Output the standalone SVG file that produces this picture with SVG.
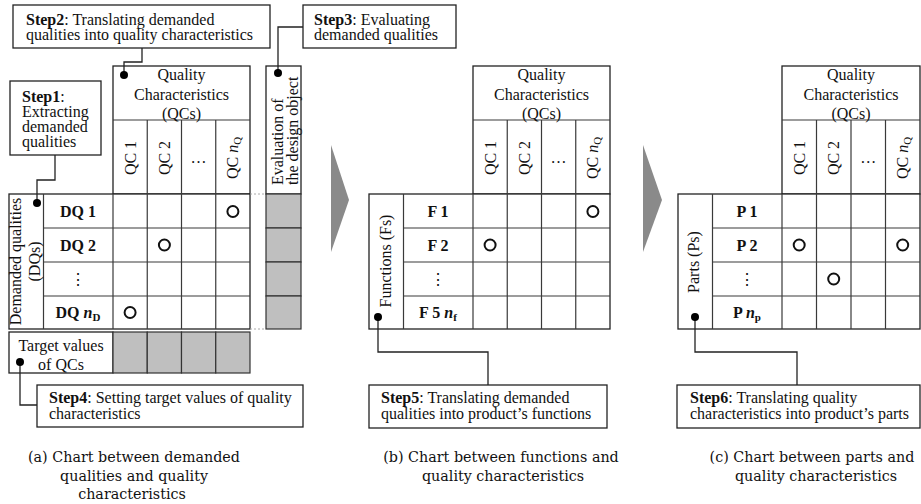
<svg xmlns="http://www.w3.org/2000/svg" width="921" height="504" viewBox="0 0 921 504">
  <style>
    text { font-family: 'Liberation Serif', 'Times New Roman', serif; font-size: 16px; fill: #111; }
    .b { font-weight: bold; }
    .cap { font-family: 'DejaVu Serif', serif; font-size: 14.3px; text-anchor: middle; }
    .mid { text-anchor: middle; }
    .grid { fill: none; stroke: #3a3a3a; stroke-width: 1.2; }
    .box { fill: #fff; stroke: #222; stroke-width: 1.3; }
    .shade { fill: #bfbfbf; stroke: #333; stroke-width: 1.2; }
    .mark { fill: none; stroke: #111; stroke-width: 2; }
    .link { fill: none; stroke: #222; stroke-width: 1.3; }
    .dot { fill: #000; }
    .dash { fill: none; stroke: #aaa; stroke-width: 1; stroke-dasharray: 2 2; }
    .flow { fill: #8a8a8a; }
    .sub { font-size: 11px; }
    .nv { font-style: italic; }
  </style>

  <!-- Step callout boxes -->
  <g id="step2">
    <rect class="box" x="13" y="5" width="257" height="43"/>
    <text x="26" y="25"><tspan class="b">Step2</tspan>: Translating demanded</text>
    <text x="26" y="40">qualities into quality characteristics</text>
  </g>
  <g id="step3">
    <rect class="box" x="303" y="5" width="153" height="43"/>
    <text x="314" y="25"><tspan class="b">Step3</tspan>: Evaluating</text>
    <text x="314" y="40">demanded qualities</text>
  </g>
  <g id="step1">
    <rect class="box" x="10" y="81" width="91" height="74"/>
    <text x="22" y="102"><tspan class="b">Step1</tspan>:</text>
    <text x="22" y="117">Extracting</text>
    <text x="22" y="132">demanded</text>
    <text x="22" y="147">qualities</text>
  </g>
  <g id="step4">
    <rect class="box" x="37" y="385" width="266" height="42"/>
    <text x="49" y="403"><tspan class="b">Step4</tspan>: Setting target values of quality</text>
    <text x="49" y="419">characteristics</text>
  </g>
  <g id="step5">
    <rect class="box" x="369" y="385" width="238" height="43"/>
    <text x="381" y="403"><tspan class="b">Step5</tspan>: Translating demanded</text>
    <text x="381" y="419">qualities into product’s functions</text>
  </g>
  <g id="step6">
    <rect class="box" x="677" y="385" width="243" height="43"/>
    <text x="690" y="403"><tspan class="b">Step6</tspan>: Translating quality</text>
    <text x="690" y="419">characteristics into product’s parts</text>
  </g>

  <!-- Chart (a): demanded qualities vs quality characteristics -->
  <g id="chart-a">
    <rect class="box" x="113" y="66" width="137" height="128"/>
    <rect class="box" x="9" y="194" width="241" height="135"/>
    <path class="grid" d="M113 120H250 M147.25 120V329 M181.5 120V329 M215.75 120V329 M113 194V329 M43.5 194V329 M43.5 228H250 M43.5 262H250 M43.5 296H250"/>
    <text class="mid" x="181.5" y="80">Quality</text>
    <text class="mid" x="181.5" y="100">Characteristics</text>
    <text class="mid" x="181.5" y="119">(QCs)</text>
    <text class="mid" transform="translate(130.1,158) rotate(-90)" y="5.5">QC 1</text>
    <text class="mid" transform="translate(164.4,158) rotate(-90)" y="5.5">QC 2</text>
    <text class="mid" x="198.6" y="163">…</text>
    <text class="mid" transform="translate(232.9,158) rotate(-90)" y="5.5">QC <tspan class="nv">n</tspan><tspan class="sub" dy="3">Q</tspan></text>
    <text class="mid" transform="translate(21,261.5) rotate(-90)">Demanded qualities</text>
    <text class="mid" transform="translate(40,261.5) rotate(-90)">(DQs)</text>
    <text class="mid b" x="78" y="216.5">DQ 1</text>
    <text class="mid b" x="78" y="250.5">DQ 2</text>
    <text class="mid" x="78" y="285">⋮</text>
    <text class="mid b" x="78" y="318">DQ <tspan class="nv">n</tspan><tspan class="sub" dy="3">D</tspan></text>
    <circle class="mark" cx="232.9" cy="211.5" r="5.5"/>
    <circle class="mark" cx="164.4" cy="245" r="5.5"/>
    <circle class="mark" cx="130.1" cy="312.5" r="5.5"/>
  </g>

  <!-- Evaluation column -->
  <g id="evaluation">
    <rect class="box" x="266" y="66" width="35" height="128"/>
    <rect class="shade" x="266" y="194" width="35" height="34"/>
    <rect class="shade" x="266" y="228" width="35" height="34"/>
    <rect class="shade" x="266" y="262" width="35" height="34"/>
    <rect class="shade" x="266" y="296" width="35" height="33"/>
    <text transform="translate(282.5,185) rotate(-90)">Evaluation of</text>
    <text transform="translate(298,185) rotate(-90)">the design object</text>
  </g>

  <!-- Target values row -->
  <g id="target-values">
    <rect class="box" x="9" y="332" width="104" height="41"/>
    <rect class="shade" x="113" y="332" width="34.25" height="41"/>
    <rect class="shade" x="147.25" y="332" width="34.25" height="41"/>
    <rect class="shade" x="181.5" y="332" width="34.25" height="41"/>
    <rect class="shade" x="215.75" y="332" width="34.25" height="41"/>
    <text class="mid" x="61" y="351">Target values</text>
    <text class="mid" x="61" y="370">of QCs</text>
  </g>

  <!-- Chart (b): functions vs quality characteristics -->
  <g id="chart-b">
    <rect class="box" x="473" y="66" width="137" height="128"/>
    <rect class="box" x="369" y="194" width="241" height="135"/>
    <path class="grid" d="M473 120H610 M507.25 120V329 M541.5 120V329 M575.75 120V329 M473 194V329 M403.5 194V329 M403.5 228H610 M403.5 262H610 M403.5 296H610"/>
    <text class="mid" x="541.5" y="80">Quality</text>
    <text class="mid" x="541.5" y="100">Characteristics</text>
    <text class="mid" x="541.5" y="119">(QCs)</text>
    <text class="mid" transform="translate(490.1,158) rotate(-90)" y="5.5">QC 1</text>
    <text class="mid" transform="translate(524.4,158) rotate(-90)" y="5.5">QC 2</text>
    <text class="mid" x="558.6" y="163">…</text>
    <text class="mid" transform="translate(592.9,158) rotate(-90)" y="5.5">QC <tspan class="nv">n</tspan><tspan class="sub" dy="3">Q</tspan></text>
    <text class="mid" transform="translate(391,261) rotate(-90)">Functions (Fs)</text>
    <text class="mid b" x="438" y="216.5">F 1</text>
    <text class="mid b" x="438" y="250.5">F 2</text>
    <text class="mid" x="438" y="285">⋮</text>
    <text class="mid b" x="438" y="318">F 5 <tspan class="nv">n</tspan><tspan class="sub" dy="3">f</tspan></text>
    <circle class="mark" cx="592.9" cy="211.5" r="5.5"/>
    <circle class="mark" cx="490.1" cy="245" r="5.5"/>
  </g>

  <!-- Chart (c): parts vs quality characteristics -->
  <g id="chart-c">
    <rect class="box" x="782" y="66" width="138" height="128"/>
    <rect class="box" x="678" y="194" width="242" height="135"/>
    <path class="grid" d="M782 120H920 M816.5 120V329 M851 120V329 M885.5 120V329 M782 194V329 M712.5 194V329 M712.5 228H920 M712.5 262H920 M712.5 296H920"/>
    <text class="mid" x="851" y="80">Quality</text>
    <text class="mid" x="851" y="100">Characteristics</text>
    <text class="mid" x="851" y="119">(QCs)</text>
    <text class="mid" transform="translate(799.2,158) rotate(-90)" y="5.5">QC 1</text>
    <text class="mid" transform="translate(833.7,158) rotate(-90)" y="5.5">QC 2</text>
    <text class="mid" x="868.2" y="163">…</text>
    <text class="mid" transform="translate(902.7,158) rotate(-90)" y="5.5">QC <tspan class="nv">n</tspan><tspan class="sub" dy="3">Q</tspan></text>
    <text class="mid" transform="translate(699,262) rotate(-90)">Parts (Ps)</text>
    <text class="mid b" x="747" y="216.5">P 1</text>
    <text class="mid b" x="747" y="250.5">P 2</text>
    <text class="mid" x="747" y="285">⋮</text>
    <text class="mid b" x="747" y="318">P <tspan class="nv">n</tspan><tspan class="sub" dy="3">p</tspan></text>
    <circle class="mark" cx="799.2" cy="245" r="5.5"/>
    <circle class="mark" cx="902.7" cy="245" r="5.5"/>
    <circle class="mark" cx="833.7" cy="279" r="5.5"/>
  </g>

  <!-- Flow arrows between charts -->
  <g id="flow-arrows">
    <polygon class="flow" points="331,145 349,200 331,252"/>
    <polygon class="flow" points="643,145 662,200 643,252"/>
  </g>

  <!-- Leader lines from callouts to their chart regions -->
  <g id="connectors">
    <path class="dash" d="M250 194H266 M250 329H266"/>
    <path class="link" d="M142 48V62H124V75"/>
    <path class="link" d="M303 27H278V73"/>
    <path class="link" d="M55 155V180H37V203"/>
    <path class="link" d="M20 362V405H37"/>
    <path class="link" d="M378 317V352H488V385"/>
    <path class="link" d="M695 317V352H797V385"/>
    <circle class="dot" cx="124" cy="75" r="4"/>
    <circle class="dot" cx="278" cy="73" r="4"/>
    <circle class="dot" cx="37" cy="203" r="4"/>
    <circle class="dot" cx="20" cy="362" r="4"/>
    <circle class="dot" cx="378" cy="317" r="4"/>
    <circle class="dot" cx="695" cy="317" r="4"/>
  </g>

  <!-- Captions -->
  <g id="captions">
    <text class="cap" x="134" y="462">(a) Chart between demanded</text>
    <text class="cap" x="134" y="481">qualities and quality</text>
    <text class="cap" x="132" y="499">characteristics</text>
    <text class="cap" x="501" y="462">(b) Chart between functions and</text>
    <text class="cap" x="503" y="481">quality characteristics</text>
    <text class="cap" x="812" y="462">(c) Chart between parts and</text>
    <text class="cap" x="816" y="481">quality characteristics</text>
  </g>
</svg>
